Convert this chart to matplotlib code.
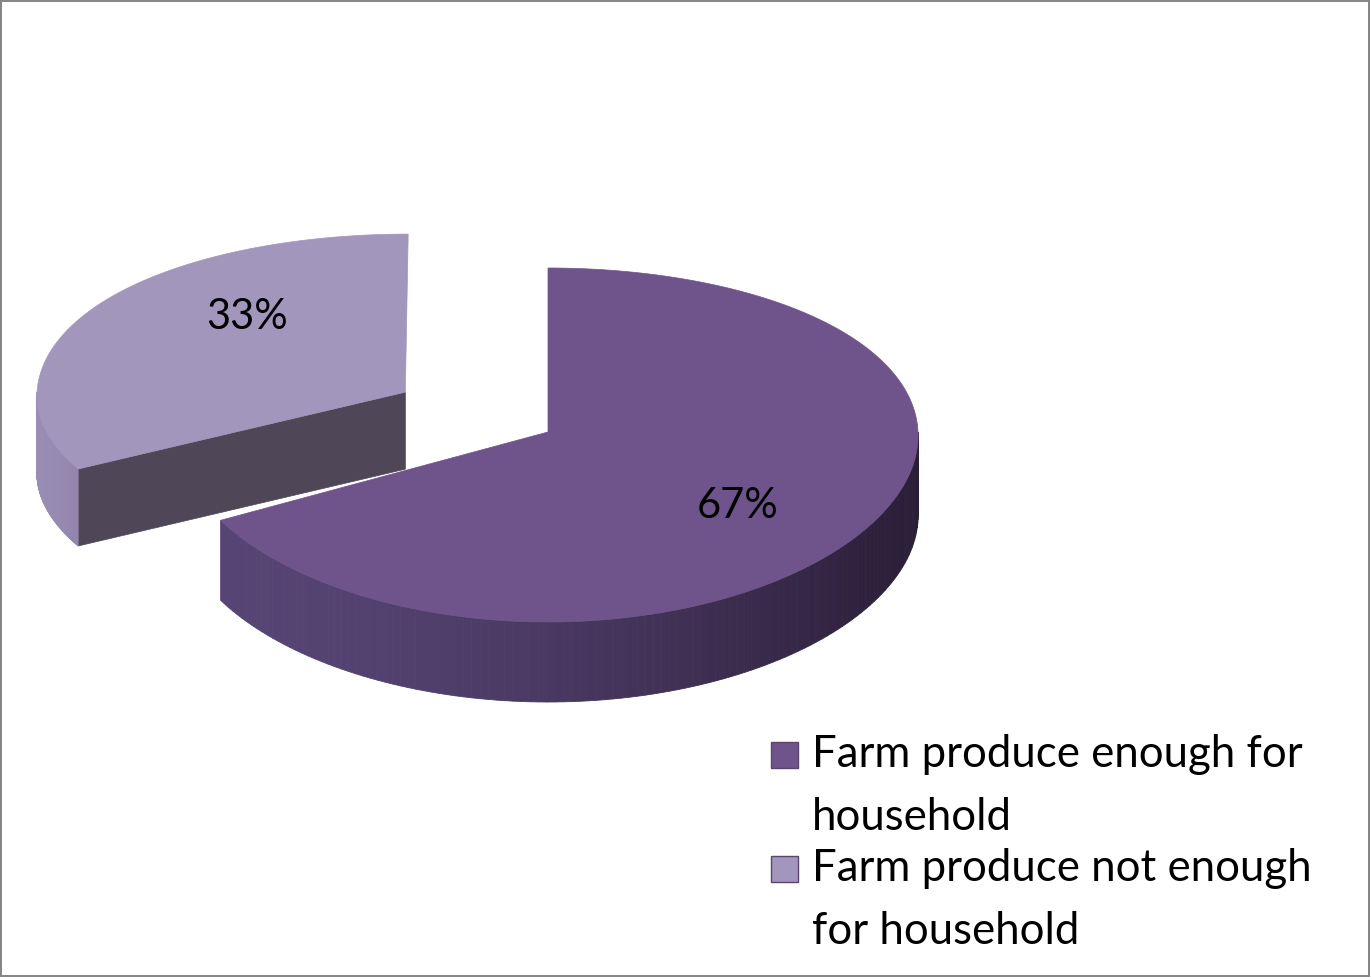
import numpy as np
import matplotlib.pyplot as plt
from matplotlib.patches import Polygon, Rectangle

# pie data
labels = ["Farm produce enough for\nhousehold", "Farm produce not enough\nfor household"]
shares = [67, 33]
explode = [0.0, 0.45]
top_colors = ["#6f548b", "#a396bc"]
wall_left = [(86, 68, 116), (154, 141, 181)]
wall_right = [(42, 29, 54), (146, 133, 172)]
face_colors = ["#3f3150", "#4f4658"]

plt.rcParams["font.family"] = ["Lato", "DejaVu Sans"]

W, H = 1370, 977
fig = plt.figure(figsize=(W / 100, H / 100), dpi=100)
fig.patch.set_edgecolor("#868686")
fig.patch.set_linewidth(1.5)
ax = fig.add_axes([0, 0, 1, 1])
ax.set_xlim(0, W)
ax.set_ylim(H, 0)
ax.axis("off")

# tilted disc, slightly bigger toward the front
cx, cy = 548, 432
rx = 370
depths = [80, 77]
# per-slice (y back, y front) squeeze around the slice centre
local_scale = [(1.0, 1.0), (1.0, 0.9)]
label_r = [0.65, 0.63]
label_turn = [-8.0, -15.5]


def proj(X, Y, z=0.0):
    X = np.atleast_1d(np.asarray(X, float))
    Y = np.atleast_1d(np.asarray(Y, float))
    x = cx + rx * X * (1 - 0.02 * Y)
    y = cy - 177 * Y + 13 * Y ** 2 + z
    return np.column_stack([x, y])


def rgb(c):
    return np.array(c) / 255


# slice angles, starting at 12 o'clock and running clockwise
bounds = []
start = 90.0
for v in shares:
    end = start - 360.0 * v / sum(shares)
    bounds.append((end, start))
    start = end

for i in reversed(range(len(shares))):
    lo, hi = bounds[i]
    mid = np.radians((lo + hi) / 2)
    ox, oy = explode[i] * np.cos(mid), explode[i] * np.sin(mid)
    c0 = proj(ox, oy)[0]
    sy_back, sy_front = local_scale[i]
    depth = depths[i]

    def sp(X, Y, z=0.0):
        p = proj(ox + np.asarray(X), oy + np.asarray(Y)) - c0
        p[:, 1] *= np.where(p[:, 1] < 0, sy_back, sy_front)
        p += c0
        p[:, 1] += z
        return p

    # cut faces turned toward the viewer
    for ang, vis in ((lo, np.cos(np.radians(lo)) > 1e-6),
                     (hi, np.cos(np.radians(hi)) < -1e-6)):
        if not vis:
            continue
        a = np.radians(ang)
        pts = np.vstack([sp(0, 0), sp(np.cos(a), np.sin(a)),
                         sp(np.cos(a), np.sin(a), depth), sp(0, 0, depth)])
        ax.add_patch(Polygon(pts, closed=True, facecolor=face_colors[i],
                             edgecolor=face_colors[i], lw=0.5))

    # outer wall on the front half, shaded left to right
    for k0 in (-1, 0):
        a0 = max(np.radians(lo), np.radians(-180 + 360 * k0))
        a1 = min(np.radians(hi), np.radians(360 * k0))
        if a1 <= a0:
            continue
        ts = np.linspace(a0, a1, 120)
        top = sp(np.cos(ts), np.sin(ts))
        bot = sp(np.cos(ts), np.sin(ts), depth)
        xmin, xmax = top[:, 0].min(), top[:, 0].max()
        for j in range(len(ts) - 1):
            f = ((top[j, 0] - xmin) / max(xmax - xmin, 1)) ** 1.6
            col = tuple((1 - f) * rgb(wall_left[i]) + f * rgb(wall_right[i]))
            quad = np.vstack([top[j], top[j + 1], bot[j + 1], bot[j]])
            ax.add_patch(Polygon(quad, closed=True, facecolor=col, edgecolor=col, lw=0.6))

    # top face
    t = np.radians(np.linspace(lo, hi, 300))
    rim = sp(np.cos(t), np.sin(t))
    ax.add_patch(Polygon(np.vstack([sp(0, 0), rim]), closed=True,
                         facecolor=top_colors[i], edgecolor=top_colors[i], lw=0.5))

    # percentage label
    la = mid + np.radians(label_turn[i])
    lp = sp(label_r[i] * np.cos(la), label_r[i] * np.sin(la))[0]
    ax.text(lp[0], lp[1], f"{shares[i]}%", fontsize=30, ha="center", va="center",
            color="black")

# legend at lower right
for i, lab in enumerate(labels):
    ty = 734 + i * 114
    ax.add_patch(Rectangle((771, ty + 8), 27, 26, facecolor=top_colors[i],
                           edgecolor="#5a4570", lw=1.0))
    ax.text(812, ty, lab, fontsize=31.5, ha="left", va="top", linespacing=1.68,
            color="black")

fig.savefig("out.png", dpi=100)
